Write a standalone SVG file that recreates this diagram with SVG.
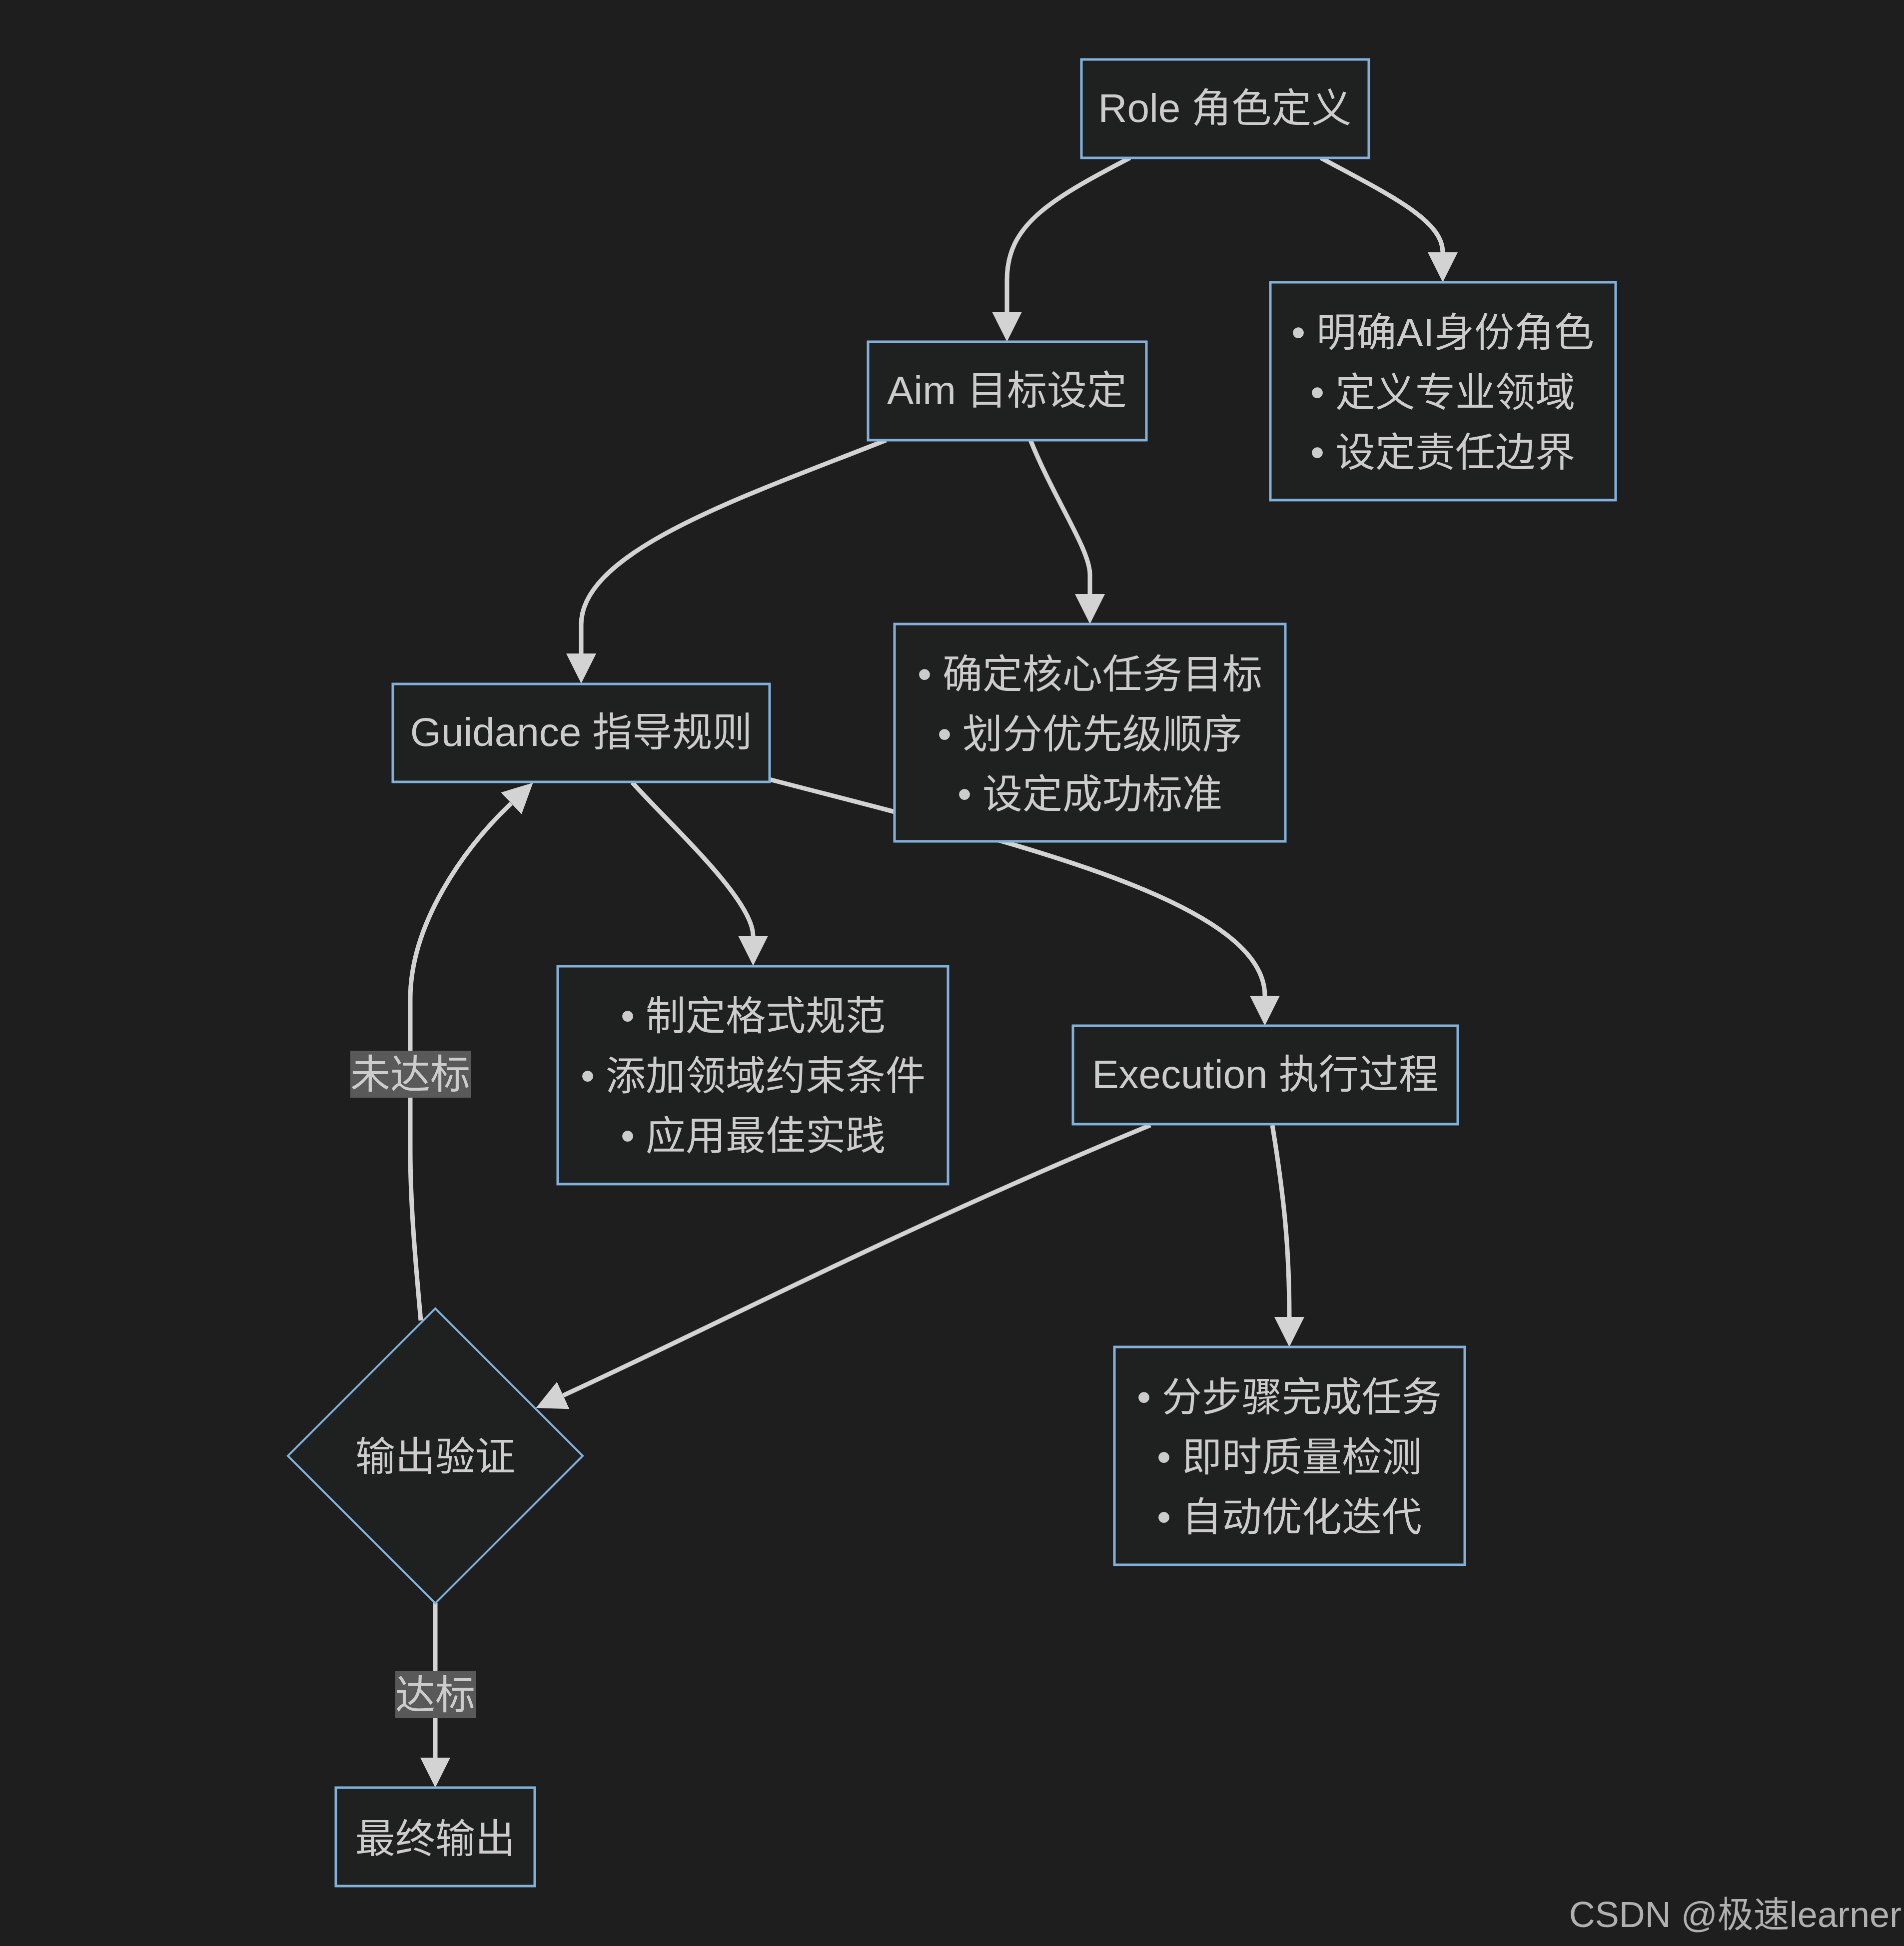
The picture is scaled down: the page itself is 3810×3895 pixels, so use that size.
<svg xmlns="http://www.w3.org/2000/svg" width="3810" height="3895" viewBox="0 0 3810 3895">
<defs>
<style>
.node rect,.node polygon{fill:#1f2020;stroke:#81B1DB;stroke-width:5}
.node text,.lbl text{font-family:"Liberation Sans","Noto Sans CJK SC",sans-serif;font-size:80px;fill:#cccccc;text-anchor:middle}
.edge{fill:none;stroke:#d3d3d3;stroke-width:9}
.lbl rect{fill:#595959}
.wm{font-family:"Liberation Sans","Noto Sans CJK SC",sans-serif;font-size:72px;fill:#b0b0b0;text-anchor:end}
</style>
<marker id="arrow" viewBox="0 0 10 10" refX="0" refY="5" markerUnits="userSpaceOnUse" markerWidth="60" markerHeight="60" orient="auto">
<path d="M0,0 L10,5 L0,10 z" fill="#d3d3d3"/>
</marker>
</defs>
<rect x="0" y="0" width="3810" height="3895" fill="#1e1e1e"/>

<g id="connectors">
<path class="edge" marker-end="url(#arrow)" d="M2261,316 C2100,400 2015,450 2015,560 L2015,624"/>
<path class="edge" marker-end="url(#arrow)" d="M2643,316 C2780,390 2887,440 2887,505"/>
<path class="edge" marker-end="url(#arrow)" d="M1773,881 C1500,990 1163,1100 1163,1250 L1163,1308"/>
<path class="edge" marker-end="url(#arrow)" d="M2062,881 C2110,1000 2181,1100 2181,1150 L2181,1189"/>
<path class="edge" marker-end="url(#arrow)" d="M1265,1566 C1340,1650 1507,1800 1507,1873"/>
<path class="edge" marker-end="url(#arrow)" d="M1540,1560 C2000,1680 2531,1800 2531,1993"/>
<path class="edge" marker-end="url(#arrow)" d="M2546,2252 C2570,2400 2580,2500 2580,2636"/>
<path class="edge" marker-end="url(#arrow)" d="M2302,2252 C1800,2460 1427,2655 1127,2793"/>
<path class="edge" marker-end="url(#arrow)" d="M842,2643 C833,2540 821,2420 821,2300 L821,2000 C821,1850 926,1700 1023,1608"/>
<path class="edge" marker-end="url(#arrow)" d="M871,3209 L871,3518"/>
<g class="lbl" id="label-fail">
<rect x="701" y="2103" width="241" height="94"/>
<text x="821" y="2178">未达标</text>
</g>
<g class="lbl" id="label-pass">
<rect x="791" y="3345" width="161" height="94"/>
<text x="871" y="3420">达标</text>
</g>
</g>

<g id="role" class="node">
<rect x="2164" y="119" width="575" height="197"/>
<text x="2451" y="244">Role 角色定义</text>
</g>
<g id="role-details" class="node">
<rect x="2542" y="565" width="691" height="436"/>
<text x="2887" y="693">• 明确AI身份角色</text>
<text x="2887" y="813">• 定义专业领域</text>
<text x="2887" y="933">• 设定责任边界</text>
</g>
<g id="aim" class="node">
<rect x="1737" y="684" width="557" height="197"/>
<text x="2015" y="809">Aim 目标设定</text>
</g>
<g id="aim-details" class="node">
<rect x="1790" y="1249" width="782" height="435"/>
<text x="2181" y="1377">• 确定核心任务目标</text>
<text x="2181" y="1497">• 划分优先级顺序</text>
<text x="2181" y="1617">• 设定成功标准</text>
</g>
<g id="guidance" class="node">
<rect x="786" y="1369" width="754" height="196"/>
<text x="1163" y="1493">Guidance 指导规则</text>
</g>
<g id="guidance-details" class="node">
<rect x="1116" y="1934" width="781" height="436"/>
<text x="1507" y="2061">• 制定格式规范</text>
<text x="1507" y="2181">• 添加领域约束条件</text>
<text x="1507" y="2301">• 应用最佳实践</text>
</g>
<g id="execution" class="node">
<rect x="2147" y="2053" width="770" height="197"/>
<text x="2532" y="2178">Execution 执行过程</text>
</g>
<g id="execution-details" class="node">
<rect x="2230" y="2696" width="701" height="436"/>
<text x="2580" y="2824">• 分步骤完成任务</text>
<text x="2580" y="2944">• 即时质量检测</text>
<text x="2580" y="3064">• 自动优化迭代</text>
</g>
<g id="validate" class="node">
<polygon points="871,2619 1166,2914 871,3209 576,2914" style="stroke-width:4"/>
<text x="871" y="2943">输出验证</text>
</g>
<g id="final" class="node">
<rect x="672" y="3578" width="398" height="197"/>
<text x="871" y="3708">最终输出</text>
</g>

<text class="wm" x="3805" y="3857">CSDN @极速learner</text>
</svg>
